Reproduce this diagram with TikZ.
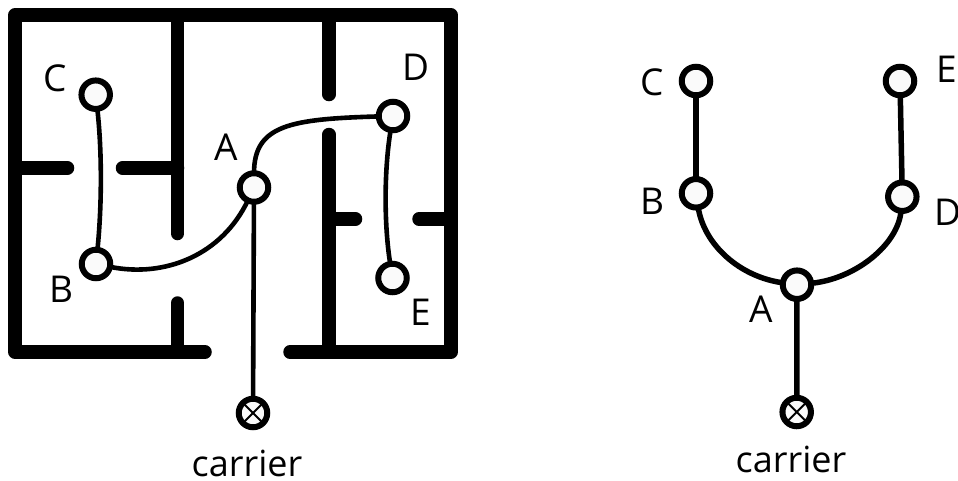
\documentclass[tikz,border=0pt]{standalone}
\usepackage{fontspec}
\setmainfont{Open Sans}
\tikzset{
  wall/.style={line width=13.5pt,line cap=round,line join=round,black},
  pin/.style={circle,draw=black,fill=white!98!black,line width=6pt,minimum size=28.5pt,inner sep=0pt,outer sep=0pt},
  thinlink/.style={line width=4.6pt,black},
  boldlink/.style={line width=5.5pt,black},
  xmark/.style={line width=2pt,black},
  lab/.style={anchor=base,inner sep=0pt,font=\fontsize{37}{37}\selectfont},
  caption/.style={anchor=base,inner sep=0pt,font=\fontsize{36}{36}\selectfont},
}
\begin{document}
\begin{tikzpicture}[x=1pt,y=-1pt]
\useasboundingbox (0,0) rectangle (958,480);
% walls
\draw[wall] (205,352) -- (15,352) -- (15,15) -- (451,15) -- (451,352) -- (290,352);
\draw[wall] (177.5,15) -- (177.5,233.5);
\draw[wall] (177.5,303) -- (177.5,352);
\draw[wall] (15,168) -- (67.5,168);
\draw[wall] (122.5,168) -- (177.5,168);
\draw[wall] (329,15) -- (329,94.5);
\draw[wall] (329,134.5) -- (329,352);
\draw[wall] (329,219) -- (355.5,219);
\draw[wall] (419,219) -- (451,219);
% left tree
\node[pin] (lc) at (95.7,94.7) {};
\node[pin] (lb) at (96,264) {};
\node[pin] (la) at (254,187.5) {};
\node[pin] (ld) at (393,116) {};
\node[pin] (le) at (392.5,278) {};
\node[pin] (lk) at (253,413) {};
\draw[thinlink] (lc) .. controls (102,150) and (102,205) .. (lb);
\draw[thinlink] (lb) .. controls (165,278) and (222,255) .. (la);
\draw[thinlink] (la) .. controls (254,125) and (290,119) .. (ld);
\draw[thinlink] (ld) .. controls (384,170) and (384,225) .. (le);
\draw[thinlink] (la) -- (lk);
\draw[xmark] (lk.45) -- (lk.225);
\draw[xmark] (lk.135) -- (lk.315);
\node[lab] (tlc) at (55,91.7) {C};
\node[lab] (tla) at (226,160) {A};
\node[lab] (tld) at (416,80) {D};
\node[lab] (tlb) at (61,302.7) {B};
\node[lab] (tle) at (421,325) {E};
\node[caption] (tlk) at (247,476) {carrier};
% right tree
\node[pin] (rc) at (696,81) {};
\node[pin] (rb) at (696,193.3) {};
\node[pin] (ra) at (797,284.7) {};
\node[pin] (rd) at (902.3,196.7) {};
\node[pin] (re) at (900,81) {};
\node[pin] (rk) at (796.7,412) {};
\draw[boldlink] (rc) -- (rb);
\draw[boldlink] (re) -- (rd);
\draw[boldlink] (rb) .. controls (704,245) and (740,277) .. (ra);
\draw[boldlink] (rd) .. controls (898,245) and (855,279) .. (ra);
\draw[boldlink] (ra) -- (rk);
\draw[xmark] (rk.45) -- (rk.225);
\draw[xmark] (rk.135) -- (rk.315);
\node[lab] (trc) at (652,95.7) {C};
\node[lab] (trb) at (652,214.3) {B};
\node[lab] (tra) at (761,322.7) {A};
\node[lab] (tre) at (947,82.3) {E};
\node[lab] (trd) at (948,225.7) {D};
\node[caption] (trk) at (791,472.7) {carrier};
\end{tikzpicture}
\end{document}
